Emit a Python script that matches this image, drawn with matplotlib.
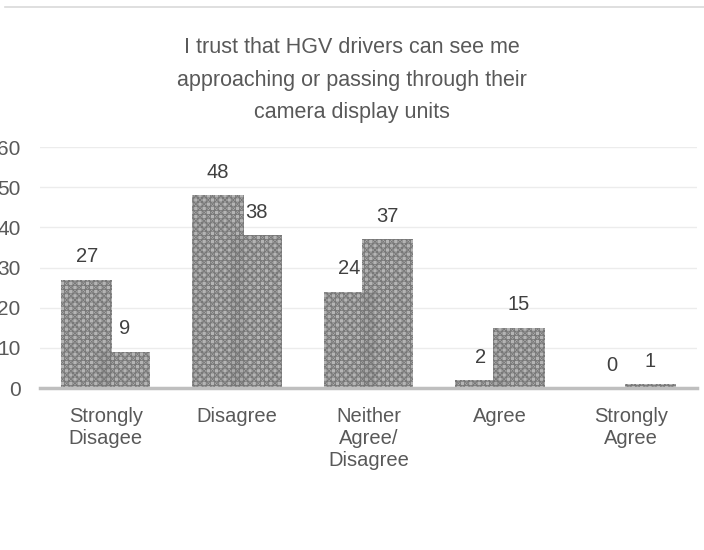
import matplotlib.pyplot as plt
from matplotlib.lines import Line2D
import numpy as np

# Survey responses, two groups of respondents
categories = ["Strongly\nDisagee", "Disagree", "Neither\nAgree/\nDisagree", "Agree", "Strongly\nAgree"]
series_a = [27, 48, 24, 2, 0]
series_b = [9, 38, 37, 15, 1]
yticks = [0, 10, 20, 30, 40, 50, 60]

title = "I trust that HGV drivers can see me\napproaching or passing through their\ncamera display units"

plt.rcParams['font.family'] = ['Liberation Sans', 'DejaVu Sans']
plt.rcParams['hatch.linewidth'] = 0.6

fig = plt.figure(figsize=(7.04, 5.5), dpi=100)
ax = fig.add_axes([40 / 704, (550 - 388) / 550, 657 / 704, 241 / 550])

x = np.arange(len(categories))
w = 0.39
off = 0.145
for vals, dx in [(series_a, -off), (series_b, off)]:
    bars = ax.bar(x + dx, vals, width=w, color='#a8a8a8', edgecolor='#6e6e6e',
                  hatch='++++xxxx', linewidth=0, alpha=0.85, zorder=2)
    for b, v in zip(bars, vals):
        ax.annotate(str(v), (b.get_x() + b.get_width() / 2, v), xytext=(0, 16.5),
                    textcoords='offset points', ha='center', va='center',
                    fontsize=14.5, color='#404040')

ax.set_xlim(-0.5, len(categories) - 0.5)
ax.set_ylim(0, 60)
ax.set_yticks(yticks)
ax.set_yticklabels([str(t) for t in yticks])
ax.set_xticks(x)
ax.set_xticklabels(categories, linespacing=1.2, va='top')
ax.tick_params(axis='both', length=0, labelsize=14.5, labelcolor='#595959')
ax.tick_params(axis='y', labelsize=15, pad=14)
ax.tick_params(axis='x', pad=14)
ax.grid(axis='y', color='#ececec', linewidth=1, zorder=0)
for s in ['top', 'right', 'left']:
    ax.spines[s].set_visible(False)
ax.spines['bottom'].set_color('#bfbfbf')
ax.spines['bottom'].set_linewidth(2.5)
ax.spines['bottom'].set_zorder(3)

fig.text(352 / 704, 1 - 37 / 550, title, ha='center', va='top', fontsize=15.5,
         color='#595959', linespacing=1.72)

# outer chart frame edge visible at the top
fig.add_artist(Line2D([5 / 704, 1], [1 - 7 / 550, 1 - 7 / 550], color='#d9d9d9', linewidth=1.2))

fig.savefig("out.png", dpi=100)
